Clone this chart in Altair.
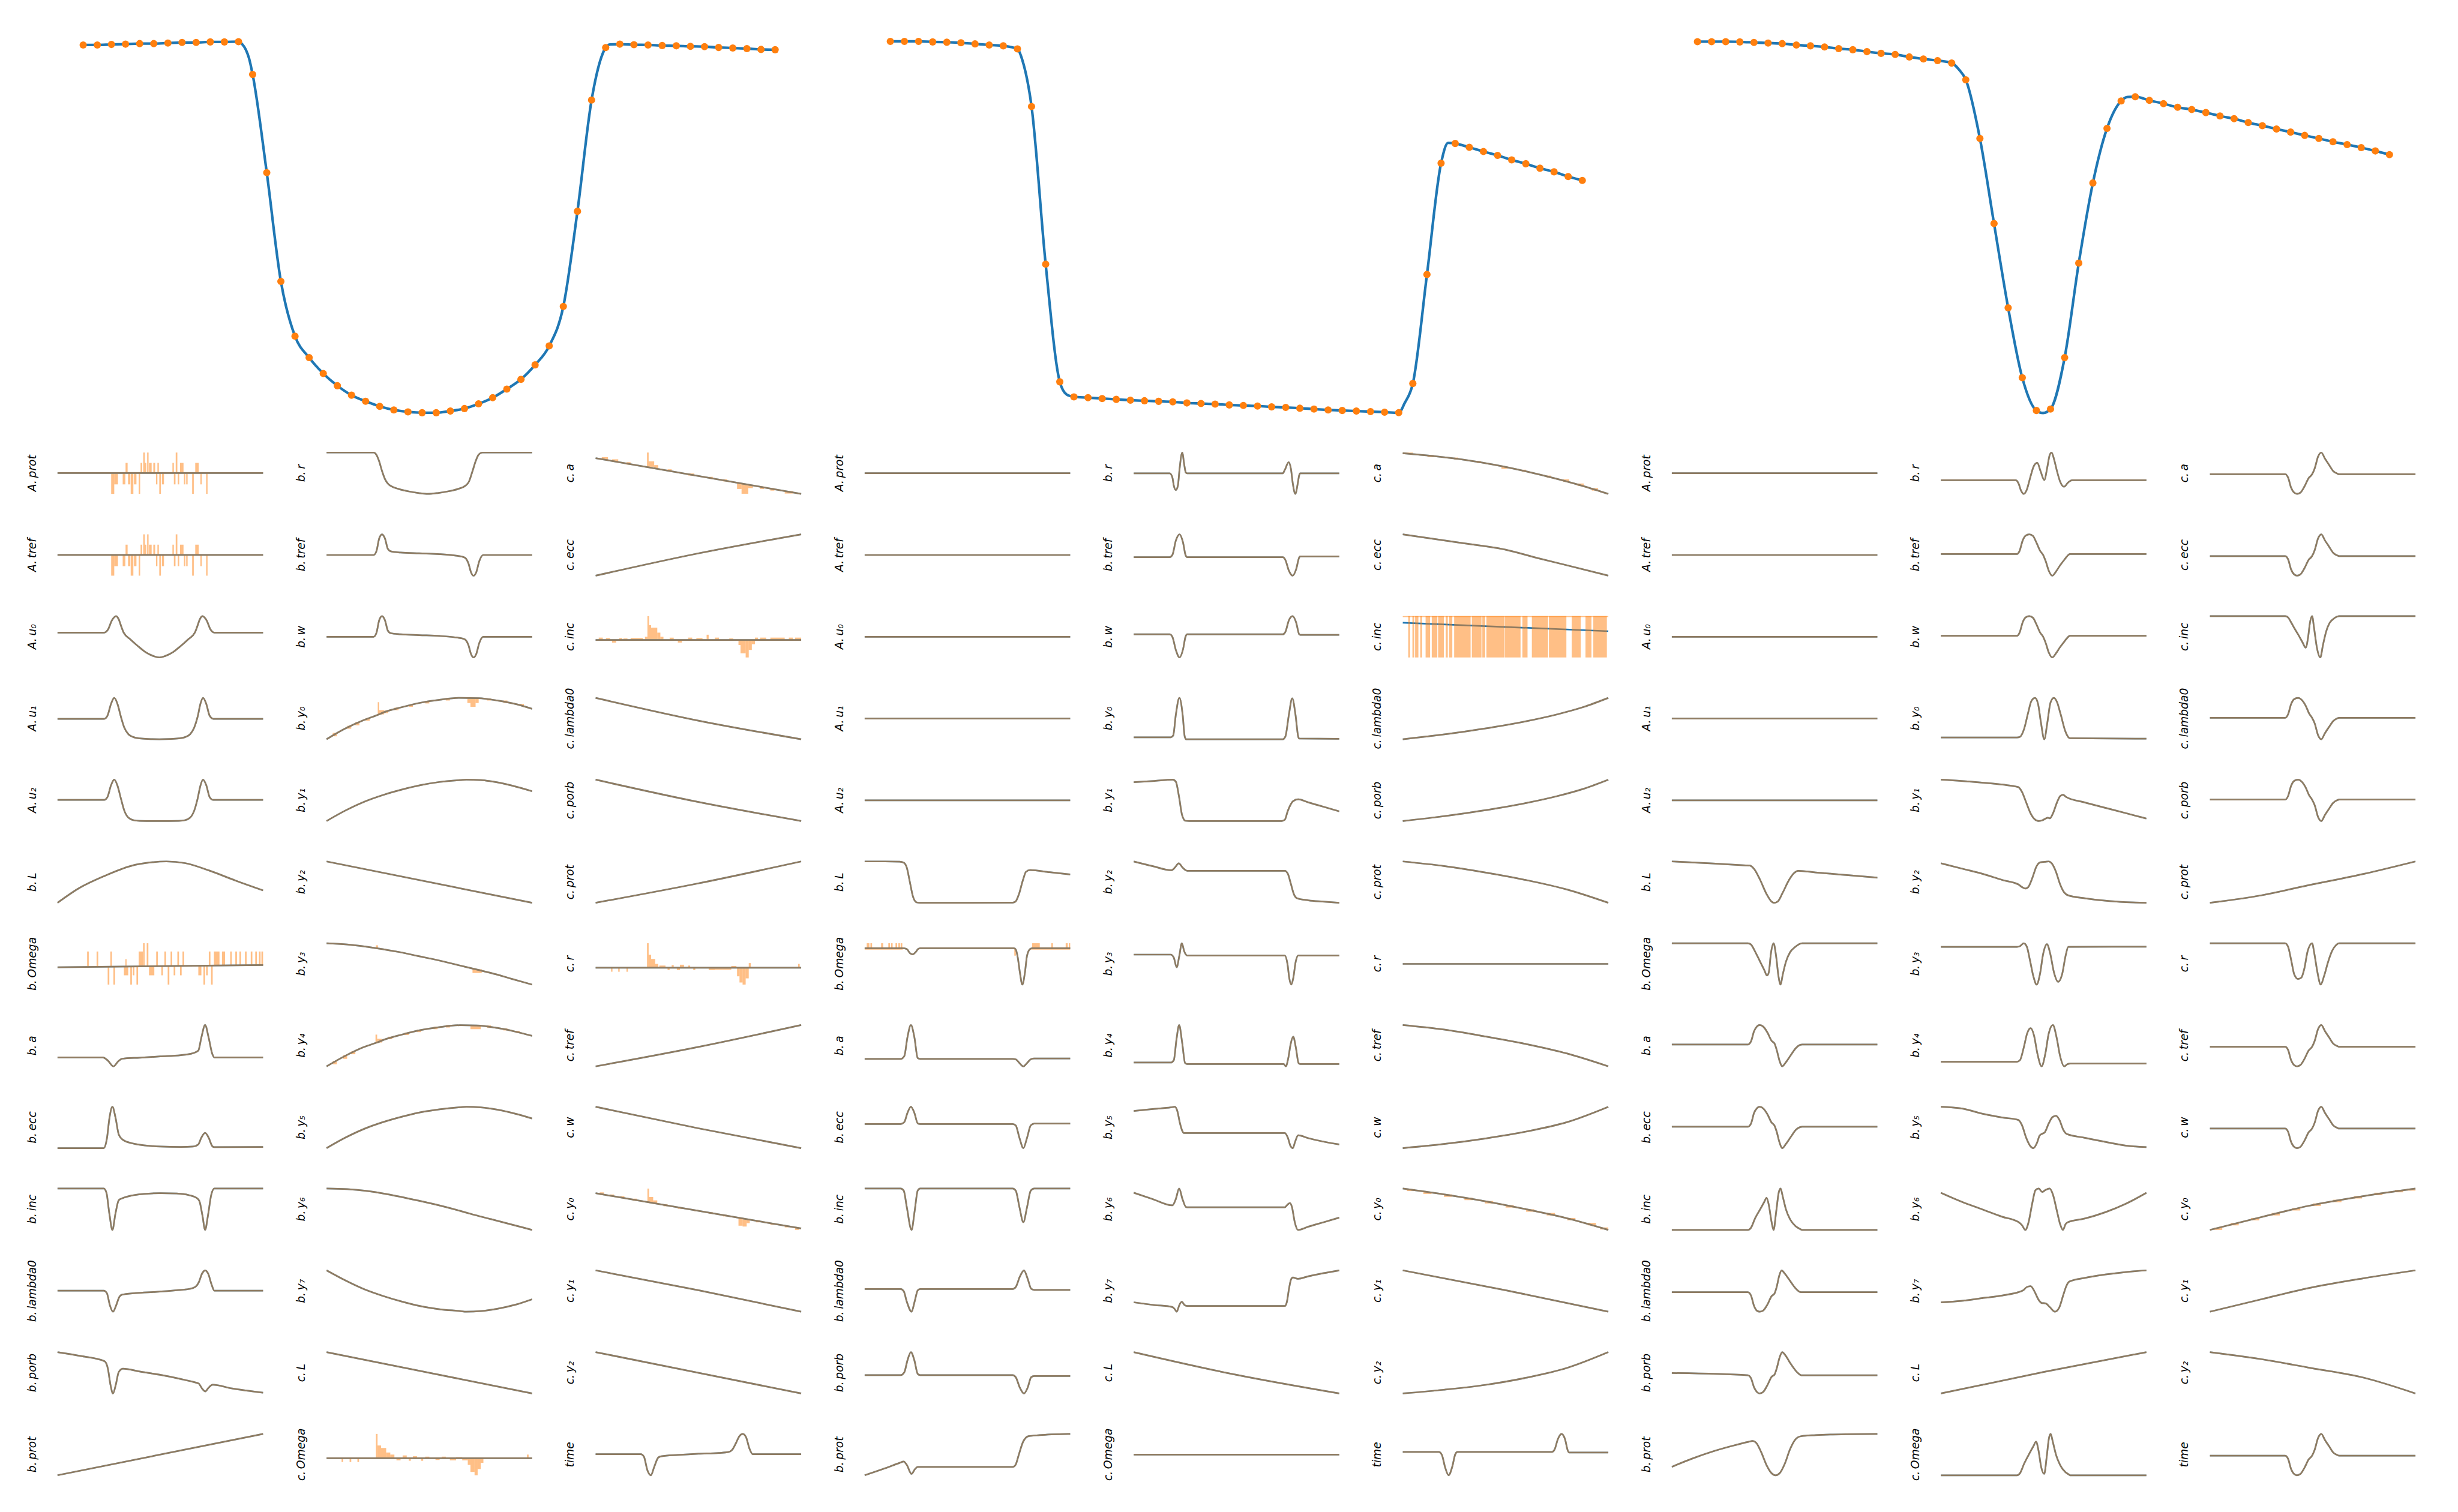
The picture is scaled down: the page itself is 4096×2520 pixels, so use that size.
import altair as alt
import pandas as pd

alt.data_transformers.disable_max_rows()

BLUE = "#1f77b4"
ORANGE = "#ff7f0e"

# ---------------- layout (pixels, already at 0.91) ----------------
CELL_W, CELL_H = 343, 69
COL_SP, ROW_SP = 106, 67.5
GROUP_W = 3 * CELL_W + 2 * COL_SP
GRID_W = 9 * CELL_W + 8 * COL_SP
TOP_H = 622.4
TOP_GAP = 65.5
LABEL_DX = -36.4
TOP_OFF, TOP_SPAN = 42.8, 1154.8          # where time 0..1 sits inside a group, in px
GROUP_STEP = (GROUP_W + COL_SP) / TOP_SPAN  # group offset in time units
X_LO, X_HI = -TOP_OFF / TOP_SPAN, (GRID_W - TOP_OFF) / TOP_SPAN

# ---------------- labels ----------------
COL_A = ["A.prot", "A.tref", "A.u₀", "A.u₁", "A.u₂", "b.L", "b.Omega", "b.a",
         "b.ecc", "b.inc", "b.lambda0", "b.porb", "b.prot"]
COL_B = ["b.r", "b.tref", "b.w", "b.y₀", "b.y₁", "b.y₂", "b.y₃", "b.y₄", "b.y₅",
         "b.y₆", "b.y₇", "c.L", "c.Omega"]
COL_C = ["c.a", "c.ecc", "c.inc", "c.lambda0", "c.porb", "c.prot", "c.r", "c.tref",
         "c.w", "c.y₀", "c.y₁", "c.y₂", "time"]

# ---------------- top light curves (normalised flux, 50 samples each) ----------------
TOP1 = [0.9868, 0.9868, 0.9882, 0.9890, 0.9905, 0.9905, 0.9920, 0.9935, 0.9935, 0.9950, 0.9950, 0.9957,
        0.9077, 0.6444, 0.3528, 0.2058, 0.1484, 0.1058, 0.0730, 0.0477, 0.0313, 0.0178, 0.0081, 0.0029,
        0.0006, 0.0006, 0.0051, 0.0118, 0.0245, 0.0409, 0.0640, 0.0902, 0.1289, 0.1797, 0.2855, 0.5408,
        0.8390, 0.9800,
        0.9890, 0.9875, 0.9868, 0.9853, 0.9846, 0.9831, 0.9823, 0.9801, 0.9786, 0.9771, 0.9748, 0.9741]
TOP1_EXTRA = [(0.2298, 0.9890), (0.2351, 0.9741), (0.2396, 0.9517), (0.7491, 0.9554), (0.7611, 0.9880)]

TOP2 = [0.9965, 0.9965, 0.9965, 0.9950, 0.9942, 0.9927, 0.9897, 0.9868, 0.9845, 0.9763,
        0.8219, 0.3990, 0.0835,
        0.0431, 0.0409, 0.0387, 0.0364, 0.0342, 0.0327, 0.0312, 0.0297, 0.0268, 0.0253, 0.0238, 0.0215,
        0.0200, 0.0186, 0.0163, 0.0148, 0.0126, 0.0104, 0.0081, 0.0066, 0.0051, 0.0036, 0.0021, 0.0007,
        0.0790, 0.3714, 0.6698,
        0.7227, 0.7123, 0.7011, 0.6906, 0.6787, 0.6683, 0.6563, 0.6466, 0.6339, 0.6235]
TOP2_EXTRA = [(0.1910, 0.9450), (0.2551, 0.0491), (0.7434, 0.0268), (0.8061, 0.7241)]

TOP3 = [0.9957, 0.9957, 0.9957, 0.9950, 0.9935, 0.9920, 0.9905, 0.9868, 0.9845, 0.9815, 0.9771, 0.9741,
        0.9689, 0.9644, 0.9614, 0.9547, 0.9494, 0.9450, 0.9383,
        0.8935, 0.7361, 0.5079, 0.2819, 0.0946, 0.0066, 0.0104, 0.1484, 0.4019, 0.6168, 0.7630, 0.8368,
        0.8480, 0.8383, 0.8294, 0.8197, 0.8137, 0.8055, 0.7965, 0.7891, 0.7787, 0.7704, 0.7615, 0.7532,
        0.7443, 0.7361, 0.7272, 0.7197, 0.7116, 0.7026, 0.6928]
TOP3_EXTRA = [(0.3775, 0.9219), (0.4996, 0.0000), (0.6218, 0.8472)]

# ---------------- gradient panels: (time %, value %) ----------------
FLAT = [(0, 50), (100, 50)]

G1_BTREF = [(0, 50), (22.9, 50), (24.3, 60), (25.6, 90), (27, 100), (28.4, 90), (29.8, 65), (31.2, 58.8),
            (36, 56), (45, 54), (55, 52), (62, 49), (66, 46), (67.5, 43), (69, 30), (70.3, 8), (71.5, 0),
            (72.8, 8), (74.3, 35), (76.2, 50), (100, 50)]
G1_RISE = [(0, 0), (8.9, 24.9), (18.2, 45.6), (24.7, 57.4), (27.5, 63.3), (36.8, 76.3), (46.1, 87),
           (55.4, 94), (64.7, 98.2), (74, 97.6), (83.3, 91.7), (92.6, 82.8), (100, 72.2)]

G1 = {
    "A.prot": [(0, 50.3), (100, 50.3)],
    "A.tref": [(0, 50.3), (100, 50.3)],
    "A.u₀": [(0, 60), (22.7, 60), (24.5, 67), (26.5, 90), (28.5, 100), (29.8, 92), (31, 75), (32.2, 60),
             (35.4, 44), (39, 28), (42.8, 13), (46.6, 3.5), (49.5, 0), (52.4, 3.5), (56.2, 13), (60, 28),
             (63.6, 44), (66.8, 60), (68, 75), (69.2, 92), (70.5, 100), (72.5, 90), (74.5, 67), (76.3, 60),
             (100, 60)],
    "A.u₁": [(0, 49.4), (22.7, 49.4), (24.3, 57), (26, 85), (27.6, 100), (29.2, 85), (30.8, 55), (32.5, 28),
             (34.5, 12), (37, 5), (40, 2), (44, 0.5), (49.5, 0), (55, 0.5), (59, 2), (62, 5), (64.5, 12),
             (66.5, 28), (68.2, 55), (69.5, 85), (70.8, 100), (72.4, 85), (74, 57), (75.8, 49.4), (100, 49.4)],
    "A.u₂": [(0, 51), (22.7, 51), (24.3, 58), (26, 86), (27.6, 100), (29.2, 85), (30.8, 55), (32.5, 25),
             (34.5, 8), (37, 2), (40, 0.5), (49.5, 0), (59, 0.5), (62, 2), (64.5, 8), (66.5, 25), (68.2, 55),
             (69.5, 85), (70.8, 100), (72.4, 86), (74, 58), (75.8, 51), (100, 51)],
    "b.L": [(0, 0), (10, 34), (22.9, 65), (35.6, 89), (45, 97.5), (53, 100), (62, 96), (73.8, 78),
            (86.5, 54), (100, 30)],
    "b.Omega": [(0, 42), (100, 47.4)],
    "b.a": [(0, 21.7), (22, 21.7), (24.5, 14), (27.2, 0), (29.5, 12), (31.5, 18.5), (40, 21), (50, 24),
            (60, 27), (66, 32), (68.5, 38), (70, 70), (71.8, 100), (73.5, 70), (75.3, 30), (76.3, 21.7),
            (100, 21.7)],
    "b.ecc": [(0, 3.3), (22.5, 3.3), (24, 25), (25.3, 75), (26.7, 100), (28.2, 75), (29.8, 35), (31.8, 22.8),
              (36, 15), (42, 10), (50, 7), (60, 6), (66, 7), (68.5, 12), (70, 28), (71.8, 39), (73.5, 28),
              (75.3, 8), (76.3, 5.5), (100, 6)],
    "b.inc": [(0, 100), (22.5, 100), (23.8, 90), (25.2, 40), (26.7, 0), (28.2, 40), (29.8, 72), (31.8, 77),
              (36, 83), (42, 87), (50, 89), (58, 88), (64, 84), (67.5, 78), (69, 70), (70.5, 35), (71.8, 0),
              (73.2, 35), (74.8, 85), (76.3, 100), (100, 100)],
    "b.lambda0": [(0, 51), (22.5, 51), (24, 45), (25.5, 15), (27, 0), (28.5, 15), (30, 35), (31.3, 41),
                  (38, 45), (48, 48), (58, 52), (64, 55), (67, 60), (68.8, 72), (70.3, 92), (71.8, 100),
                  (73.3, 92), (75, 65), (76.3, 51), (100, 51)],
    "b.porb": [(0, 100), (12, 90), (22.9, 78), (24.5, 60), (25.8, 20), (27, 0), (28.3, 20), (29.8, 52),
               (31.8, 60), (40, 53), (50, 45), (60, 35), (66, 28), (68.7, 24), (70.3, 12), (71.9, 5),
               (73.5, 14), (75.5, 21), (85, 12), (100, 2)],
    "b.prot": [(0, 0), (100, 100)],
    "b.r": [(0, 100), (22.9, 100), (24.2, 95), (25.5, 80), (27, 55), (28.5, 35), (30, 24), (31.5, 18.5),
            (35, 12), (40, 6), (45, 2), (49.3, 0), (54, 2), (59, 6), (64, 12), (67.5, 19.6), (69.3, 30),
            (71, 55), (72.6, 80), (74, 95), (75.8, 100), (100, 100)],
    "b.tref": G1_BTREF,
    "b.w": G1_BTREF,
    "b.y₀": G1_RISE,
    "b.y₁": [(0, 0), (9, 25), (18, 46), (27.5, 63), (37, 76.5), (46, 87), (55, 94.5), (65, 99), (68, 100),
             (75, 99), (80, 96), (90, 86), (100, 72)],
    "b.y₂": [(0, 100), (100, 0)],
    "b.y₃": [(0, 100), (10, 97), (24.2, 88), (35, 79), (44.5, 69), (55, 58), (65, 46), (70, 40), (80, 28),
             (90, 14), (100, 0)],
    "b.y₄": [(0, 0), (9, 25), (18, 46), (24.5, 57), (27.5, 63), (37, 76.5), (46, 87), (55, 94), (65, 98.5),
             (73, 98), (83, 92), (92, 83), (100, 73)],
    "b.y₅": [(0, 0), (9, 25), (18, 46), (27.5, 63), (37, 76.5), (46, 87), (55, 94), (65, 99), (68, 100),
             (75, 98.5), (83, 93), (92, 83), (100, 71.7)],
    "b.y₆": [(0, 100), (10, 98.5), (19, 94.6), (30, 86), (44.5, 71), (55, 59), (65, 46), (70, 39), (80, 26),
             (90, 13), (100, 0)],
    "b.y₇": [(0, 100), (9, 76), (18, 55), (27.5, 38), (37, 24), (46, 13), (55, 6), (65, 1.5), (68, 0),
             (75, 1.5), (83, 7), (92, 17), (100, 30)],
    "c.L": [(0, 100), (100, 0)],
    "c.Omega": [(0, 41.3), (100, 41.3)],
    "c.a": [(0, 86.7), (100, 1.2)],
    "c.ecc": [(0, 0), (50, 54), (100, 100)],
    "c.inc": [(0, 42.4), (100, 42.4)],
    "c.lambda0": [(0, 100), (50, 45), (100, 0)],
    "c.porb": [(0, 100), (50, 46), (100, 0)],
    "c.prot": [(0, 0), (50, 47), (100, 100)],
    "c.r": [(0, 40.9), (100, 40.9)],
    "c.tref": [(0, 0), (50, 47), (100, 100)],
    "c.w": [(0, 100), (50, 48), (100, 0)],
    "c.y₀": [(0, 89), (100, 5.4)],
    "c.y₁": [(0, 100), (50, 52), (100, 0)],
    "c.y₂": [(0, 100), (100, 0)],
    "time": [(0, 51), (22, 51), (23.5, 45), (25.2, 12), (26.9, 0), (28.5, 20), (30.5, 43), (32, 46), (40, 49),
             (50, 52), (60, 54), (64.5, 56), (66.5, 62), (68.3, 78), (70, 95), (71.6, 100), (73.2, 92),
             (74.8, 65), (76.4, 51), (100, 51)],
}

# finite-difference excursions (x1, x2, y1, y2)
A_PROT_NOISE = [(26.1, 27.6, 0, 50.3), (27.6, 29.4, 23, 50.3), (31.7, 33.0, 23, 50.3), (33.1, 34.1, 50.3, 75),
                (34.3, 35.4, 23, 50.3), (35.6, 36.9, 0, 50.3), (37.2, 38.4, 23, 50.3), (39.5, 40.2, 0, 50.3),
                (40.4, 41.2, 50.3, 75), (41.7, 42.5, 50.3, 100), (42.5, 43.2, 50.3, 75), (43.6, 44.3, 50.3, 100),
                (44.5, 45.8, 50.3, 75), (46.6, 47.5, 50.3, 75), (47.9, 48.6, 23, 50.3), (48.6, 49.3, 50.3, 75),
                (49.5, 50.3, 0, 50.3), (50.8, 51.8, 23, 50.3), (55.9, 56.6, 50.3, 75), (56.6, 57.4, 23, 50.3),
                (57.5, 58.3, 50.3, 100), (58.5, 59.2, 23, 50.3), (59.6, 61.3, 50.3, 75), (61.5, 62.2, 23, 50.3),
                (62.6, 63.3, 23, 50.3), (65.5, 66.3, 0, 50.3), (67.0, 68.7, 50.3, 75), (69.5, 70.2, 23, 50.3),
                (72.3, 73.0, 0, 50.3)]
G1_BARS = {
    "A.prot": A_PROT_NOISE,
    "A.tref": A_PROT_NOISE,
    "b.Omega": [(14.4, 15.2, 44, 80), (19, 19.8, 44, 80), (24.4, 25.2, 0, 44), (25.7, 26.5, 44, 80),
                (27.2, 28, 0, 44), (32.3, 34.4, 22.4, 44), (33, 33.6, 44, 61.5), (35.4, 36.2, 0, 44),
                (36.6, 37.4, 22.4, 44), (38.4, 39.2, 0, 44), (39.5, 41.5, 44, 80), (41.6, 42.4, 44, 100),
                (43.4, 44.2, 44, 100), (44.5, 47.1, 22.4, 44), (48, 48.8, 44, 80), (50.5, 51.3, 22.4, 44),
                (52, 52.8, 44, 80), (53.6, 54.4, 0, 44), (55, 55.8, 44, 80), (56.5, 57.3, 22.4, 44),
                (58.3, 59.1, 44, 80), (59.6, 60.4, 22.4, 44), (60.8, 61.6, 44, 80), (68.5, 70, 22.4, 45.5),
                (71, 71.8, 0, 45.5), (72.3, 73.1, 22.4, 45.5), (73.6, 74.4, 45.5, 80), (74.7, 75.5, 0, 45.5),
                (76.1, 78.8, 45.5, 80), (80, 81.5, 45.5, 80), (84, 84.8, 45.5, 80), (86.5, 87.3, 45.5, 80),
                (88.5, 89.3, 45.5, 80), (91.2, 92, 45.5, 80), (94, 94.8, 45.5, 80), (96.2, 97, 45.5, 80),
                (98, 98.8, 45.5, 80), (99.2, 100, 45.5, 80)],
    "b.y₀": [(24.9, 25.6, 57, 88), (25.6, 28, 59, 69), (28, 30, 62, 68), (68.5, 70, 86, 97), (70, 72.5, 77, 97.5),
             (72.5, 74, 86, 97.5), (3, 5, 7, 15), (10, 12, 25, 32), (14, 16, 33, 41), (19, 21, 44, 50),
             (33, 35, 69, 75), (40, 42, 77, 82), (48, 50, 85, 91), (58, 60, 92, 97), (78, 80, 92, 97),
             (86, 88, 86, 92), (94, 96, 79, 84)],
    "b.y₃": [(24, 25, 88, 95), (71, 75.5, 28, 37)],
    "b.y₄": [(23.8, 24.6, 55, 76), (24.6, 27, 57, 66), (70, 75, 89, 97.5), (3, 5, 5, 13), (8, 10, 18, 27),
             (12, 14, 29, 36), (30, 32, 65, 71), (38, 40, 75, 81), (44, 46, 82, 88), (52, 54, 89, 95),
             (58, 60, 93, 99), (78, 80, 92, 98), (86, 88, 86, 91), (92, 94, 80, 85)],
    "c.a": [(25, 25.8, 65, 100), (25.8, 28.5, 66, 79), (28.5, 30.5, 62, 70), (68.8, 71, 13, 27),
            (71, 74.3, 1.5, 25), (74.3, 76.5, 15, 23), (3, 6, 82, 89), (8, 11, 78, 84), (15, 17, 71, 77),
            (35, 37, 55, 60), (45, 48, 45, 50), (55, 57, 37, 42), (62, 64, 31, 36), (80, 82, 13, 19),
            (85, 87, 9, 15), (92, 96, 2, 8)],
    "c.inc": [(1.5, 3.5, 42.4, 48), (5, 7, 42.4, 47), (8, 10, 36, 42.4), (11.5, 13, 42.4, 47), (13.5, 15.5, 42.4, 46),
              (17, 23, 42.4, 47), (24, 25.2, 42.4, 50), (25.2, 26, 42.4, 100), (26, 27, 42.4, 78),
              (27, 30, 42.4, 72), (30, 31.5, 42.4, 60), (31.5, 33, 42.4, 50), (36, 38, 42.4, 48), (40, 42, 36, 42.4),
              (45, 47, 42.4, 48), (49, 52, 42.4, 47), (54, 55, 42.4, 55), (58, 60, 42.4, 48), (65, 67, 42.4, 46),
              (69.5, 70.5, 30, 42.4), (70.5, 73, 10, 42.4), (73, 74.5, 0, 42.4), (74.5, 76, 18, 42.4),
              (76, 77.5, 32, 42.4), (77.5, 79, 42.4, 48), (80, 83, 42.4, 48), (85, 92, 42.4, 48),
              (94, 96, 42.4, 48), (97, 100, 42.4, 48)],
    "c.r": [(7.5, 8.2, 31, 40.9), (11, 11.7, 31, 40.9), (15, 15.7, 31, 40.9), (25, 25.8, 40.9, 100),
            (25.8, 27, 40.9, 72), (27, 29, 40.9, 62), (29, 30.5, 40.9, 50), (31, 34, 40.9, 46), (35, 36, 35, 40.9),
            (37, 38, 40.9, 47), (39.5, 41, 35, 40.9), (41, 43, 40.9, 48), (45, 46, 40.9, 46), (47.5, 48.5, 35, 40.9),
            (55, 58, 35, 40.9), (58, 62, 36, 40.9), (62, 66, 36, 40.9), (66, 68.5, 40.9, 45), (68.8, 70, 20, 40.9),
            (70, 71.5, 5, 40.9), (71.5, 73, 0, 40.9), (73, 74.5, 15, 40.9), (74.5, 75.5, 40.9, 52),
            (98.5, 99.3, 40.9, 50)],
    "c.y₀": [(25.2, 26, 67, 100), (26, 28, 66, 80), (28, 30, 64, 72), (69.5, 71.5, 12, 29), (71.5, 73.5, 10, 27),
             (73.5, 75, 18, 27), (2, 4, 85, 91), (7, 9, 81, 86), (12, 14, 77, 82), (18, 20, 71, 76),
             (33, 35, 58, 63), (40, 42, 52, 56), (48, 50, 46, 50), (55, 57, 40, 44), (62, 64, 34, 38),
             (78, 80, 20, 25), (85, 87, 14, 18), (92, 94, 8, 12), (97, 99, 2, 8)],
    "c.Omega": [(7.3, 8.1, 32, 41.3), (11.2, 12, 32, 41.3), (15, 15.8, 32, 41.3), (24, 24.8, 41.3, 100),
                (24.8, 26.5, 41.3, 72), (26.5, 29, 41.3, 66), (29, 31, 41.3, 55), (31, 33, 41.3, 50),
                (34, 36, 36, 41.3), (37, 39, 41.3, 48), (40, 41, 35, 41.3), (42, 44, 41.3, 46), (46, 47, 35, 41.3),
                (48, 50, 41.3, 45), (53, 55, 37, 41.3), (56, 58, 41.3, 45), (60, 63, 36, 41.3), (63, 66, 41.3, 44),
                (66, 68.7, 36, 41.3), (68.7, 70, 25, 41.3), (70, 72, 8, 41.3), (72, 73.5, 0, 41.3),
                (73.5, 75, 15, 41.3), (75, 76.3, 30, 41.3), (97.5, 98.3, 41.3, 50)],
}

G2 = {
    "A.prot": FLAT, "A.tref": FLAT, "A.u₀": FLAT, "A.u₁": FLAT, "A.u₂": FLAT,
    "b.L": [(0, 100), (10, 100), (17, 99.5), (19, 97), (20.5, 85), (22, 50), (23.5, 15), (25.3, 1), (27, 0),
            (50, 0), (72, 0.5), (73.4, 3), (75, 20), (77, 55), (78.5, 75), (80.5, 79), (90, 74), (100, 68.5)],
    "b.Omega": [(0, 87.8), (18.5, 87.8), (20.5, 86), (22, 76), (23.3, 73), (24.7, 78), (26, 86), (27, 87.8),
                (72.5, 87.8), (73.5, 85), (74.5, 65), (75.5, 30), (76.7, 0), (78, 30), (79, 70), (80.5, 86),
                (81.5, 87.8), (100, 87.8)],
    "b.a": [(0, 17.8), (17.5, 17.8), (19.3, 25), (20.8, 70), (22.5, 100), (24.2, 70), (25.8, 20), (27, 17.8),
            (72, 17.8), (73.5, 17), (75.3, 8), (77.2, 0), (79, 8), (80.8, 17), (82.5, 18.9), (100, 18.9)],
    "b.ecc": [(0, 58.4), (17.5, 58.4), (19.3, 63), (20.8, 85), (22.5, 100), (24.2, 85), (25.8, 60), (27, 58.4),
              (72, 58.4), (73.5, 55), (75.3, 25), (77.2, 0), (79, 25), (80.8, 55), (82.5, 59.5), (100, 59.5)],
    "b.inc": [(0, 100), (17.5, 100), (19, 95), (20.5, 55), (22.8, 0), (24.3, 45), (25.8, 95), (27, 100),
              (72, 100), (73.5, 95), (75.3, 55), (77.2, 18.7), (79, 55), (80.8, 95), (82.5, 100), (100, 100)],
    "b.lambda0": [(0, 55.4), (17.5, 55.4), (19, 50), (20.5, 25), (22.8, 1), (24.3, 25), (25.8, 52), (27, 55.4),
                  (72, 55.4), (73.5, 60), (75.5, 85), (77.5, 100), (79.3, 80), (81, 56), (82.5, 53.3), (100, 53.3)],
    "b.porb": [(0, 45), (17.5, 45), (19.3, 52), (20.8, 80), (22.5, 100), (24.2, 80), (25.8, 48), (27, 45),
               (72, 45), (73.5, 40), (75.5, 15), (77.5, 1), (79.3, 15), (81, 40), (82.5, 42.9), (100, 42.9)],
    "b.prot": [(0, 0), (10, 17), (17, 30), (19, 33.3), (20.5, 25), (22.8, 3.3), (24.5, 15), (25.8, 20),
               (50, 20), (72, 20), (73.4, 25), (75, 50), (77, 80), (79.7, 94.4), (85, 97), (100, 100)],
    "b.r": [(0, 49.7), (17.5, 49.7), (18.8, 40), (19.5, 20), (20.5, 9.4), (21.5, 20), (22.3, 60), (23.6, 100),
            (24.6, 70), (25.3, 52), (26, 49.7), (72.5, 49.7), (73.5, 58), (75.4, 76.6), (76.5, 60), (77.4, 25),
            (78.6, 0), (79.8, 25), (80.5, 45), (81, 49.7), (100, 49.7)],
    "b.tref": [(0, 44.8), (17.5, 44.8), (18.8, 50), (20.5, 85), (22.3, 100), (24, 80), (25.2, 50), (26, 44.8),
               (72.5, 44.8), (73.8, 38), (75.5, 12), (77.3, 0), (79, 15), (80.5, 44), (81, 46.5), (100, 46.5)],
    "b.w": [(0, 55.9), (17.5, 55.9), (18.8, 50), (20.5, 18), (22.3, 0), (24, 20), (25.2, 50), (26, 55.9),
            (72.5, 55.9), (73.8, 62), (75.5, 90), (77.3, 100), (79, 85), (80.5, 56), (81, 54.7), (100, 54.7)],
    "b.y₀": [(0, 5.8), (18, 5.8), (19.2, 10), (20.5, 60), (22.2, 100), (23.8, 60), (24.8, 8), (25.5, 1.2),
             (72.5, 1.2), (73.8, 8), (75.5, 60), (77.1, 99), (78.7, 60), (80, 8), (80.5, 2.9), (100, 2.3)],
    "b.y₁": [(0, 94), (10, 97), (19, 100), (20.5, 95), (22, 60), (23.5, 15), (25.2, 0.5), (27, 0), (72, 0),
             (73.5, 3), (75, 25), (77.5, 48), (80, 52.6), (85, 45), (92, 35), (100, 23.4)],
    "b.y₂": [(0, 100), (9, 89), (18.3, 78.7), (20, 85), (21.9, 95.5), (23.8, 85), (26, 77.5), (50, 77.5),
             (73.5, 77.3), (75, 70), (76.5, 45), (78, 20), (79.4, 11.2), (85, 6), (92, 3), (100, 0)],
    "b.y₃": [(0, 72.5), (18, 72.5), (19.5, 65), (20.9, 41.8), (22.2, 70), (23.4, 100), (24.6, 80), (26, 70.3),
             (73.5, 70.3), (74.8, 50), (75.7, 15), (76.6, 0), (77.6, 15), (78.8, 55), (80, 70.3), (100, 70)],
    "b.y₄": [(0, 9.1), (18, 9.1), (19.5, 15), (20.8, 65), (22.1, 100), (23.5, 60), (25, 8), (26, 5.7),
             (73, 5.7), (74, 0), (75.2, 20), (76.4, 55), (77.6, 71.6), (78.9, 45), (80.2, 8), (81, 5.7), (100, 5.7)],
    "b.y₅": [(0, 90), (10, 95), (18, 98.5), (20, 100), (21.2, 90), (22.5, 60), (23.6, 42), (24.4, 36.7),
             (50, 36.7), (73.5, 36.5), (75, 25), (76.3, 5), (77.4, 0), (78.5, 15), (80, 31), (85, 24), (92, 16),
             (100, 8.9)],
    "b.y₆": [(0, 90), (9, 75), (18.8, 59.3), (20.5, 75), (22.1, 100), (23.7, 75), (25.5, 55), (26, 54.9),
             (73.5, 54.9), (75, 62), (76, 64.8), (77, 55), (78.3, 20), (79.9, 0), (85, 8), (92, 18), (100, 29.7)],
    "b.y₇": [(0, 24.4), (10, 18), (18.8, 13.3), (20, 8), (20.9, 2.2), (22.2, 18), (23.4, 25.6), (24.7, 18),
             (26, 15.6), (73.5, 15.6), (74.5, 25), (75.5, 55), (76.5, 78), (77.4, 83.3), (79.9, 80), (85, 86),
             (92, 93), (100, 100)],
    "c.L": [(0, 100), (50, 45), (100, 0)],
    "c.Omega": FLAT,
    "c.a": [(0, 98.3), (15, 91.5), (30, 82.7), (45, 70.5), (60, 55), (75, 37), (88, 19.5), (100, 1.2)],
    "c.ecc": [(0, 100), (30, 78.2), (50, 63), (65.3, 43), (80, 25), (100, 0)],
    "c.inc": [(0, 84.1), (100, 63.5)],
    "c.lambda0": [(0, 0), (15, 8.5), (30, 18.5), (45, 30), (60, 43.5), (75, 60), (88, 78), (100, 100)],
    "c.porb": [(0, 0), (15, 8.5), (30, 18.5), (45, 30), (60, 43.5), (75, 60), (88, 78), (100, 100)],
    "c.prot": [(0, 100), (20, 89), (40.5, 73), (60, 55), (80, 32), (100, 0)],
    "c.r": FLAT,
    "c.tref": [(0, 100), (20, 89), (40.5, 72), (60, 54), (80, 31), (100, 0)],
    "c.w": [(0, 0), (20, 10), (40.5, 23.6), (60, 40), (80, 63), (100, 100)],
    "c.y₀": [(0, 100), (20, 86), (40.5, 69), (60, 50), (80, 28), (100, 0)],
    "c.y₁": [(0, 100), (50, 52), (100, 0)],
    "c.y₂": [(0, 0), (20, 9), (40.5, 21), (60, 38), (80, 62), (100, 100)],
    "time": [(0, 56.7), (17.5, 56.7), (19, 50), (20.6, 20), (22.3, 1), (24, 20), (25.6, 52), (26.6, 56.7),
             (72.5, 56.7), (73.8, 62), (75.5, 88), (77.2, 100), (78.9, 88), (80.3, 60), (81, 55.6), (100, 55.6)],
}

G2_CINC_SPANS = [(2.65, 3.54), (4.69, 5.57), (6.0, 7.6), (8.5, 9.4), (11.1, 13.3), (14.1, 16.8), (17.2, 20.0),
                 (20.9, 21.9), (22.6, 24.1), (25.0, 33.0), (33.6, 38.3), (38.7, 40.1), (40.7, 49.2),
                 (49.5, 57.3), (58.2, 60.7), (62.8, 70.7), (71.1, 79.6), (82.2, 86.6), (88.9, 91.8), (92.7, 99.3)]
G2_BARS = {
    "b.Omega": [(1, 2.3, 87.8, 100), (2.8, 3.6, 87.8, 100), (8, 9, 87.8, 100), (11.5, 12.3, 87.8, 100),
                (12.8, 13.6, 87.8, 100), (15, 15.8, 87.8, 100), (16.4, 17.2, 87.8, 100), (17.5, 18.3, 87.8, 100),
                (81.5, 85.2, 87.8, 100), (90.8, 91.6, 87.8, 100), (97.8, 98.8, 87.8, 100), (99.3, 100, 87.8, 100),
                (0, 18.5, 84.5, 87.8), (81, 100, 84.5, 87.8), (72.8, 73.6, 70, 87.8)],
    "c.a": [(0, 5, 96, 100), (12, 15, 89, 94), (25, 27, 83, 88), (36, 38, 75, 80), (48, 51, 61, 67),
            (58, 60, 54, 59), (70, 72, 40, 45), (78, 81, 30, 36), (85, 88, 20, 26), (92, 95, 9, 15)],
    "c.y₀": [(2, 6, 94, 99), (10, 14, 87, 92), (20, 24, 80, 86), (30, 34, 72, 78), (40, 44, 64, 70),
             (50, 54, 54, 60), (60, 64, 44, 50), (70, 74, 35, 41), (80, 84, 23, 29), (90, 94, 11, 17),
             (96, 100, 1, 6)],
}
G2_TOPBARS = {"c.inc": [(a, b, 0, 100) for a, b in G2_CINC_SPANS] + [(0, 100, 97.5, 100)]}
G2_NO_ORANGE_LINE = ["c.inc"]

G3_DIP_PEAK = [(0, 47.4), (36.6, 47.4), (38, 40), (39.5, 15), (41, 3), (42.4, 0), (44, 3), (46, 18), (48, 38),
               (49.7, 47.4), (51, 62), (52.6, 90), (54.2, 100), (56, 85), (58, 70), (60, 55), (62, 49),
               (62.8, 47.4), (100, 47.4)]
G3_PEAK_DIP = [(0, 51.7), (36.6, 51.7), (38, 60), (39.5, 85), (41, 97), (42.9, 100), (44.5, 96), (46.5, 82),
               (48.3, 62), (49.7, 51.7), (51, 38), (52.6, 10), (54.2, 0), (56, 15), (58, 30), (60, 44),
               (62, 50.5), (62.8, 51.7), (100, 51.7)]
G3_BTREF = [(0, 52.3), (37, 52.3), (38.3, 60), (39.8, 85), (41.3, 97), (43, 100), (44.8, 96), (46.5, 80),
            (48.3, 60), (49.7, 50.6), (51, 35), (52.5, 12), (54.2, 0), (56, 10), (58, 25), (60, 38), (62, 50),
            (62.8, 52.3), (100, 52.3)]

G3 = {
    "A.prot": FLAT, "A.tref": FLAT, "A.u₀": FLAT, "A.u₁": FLAT, "A.u₂": FLAT,
    "b.L": [(0, 100), (20, 95), (36, 90.5), (38, 89.9), (40, 82), (43, 55), (46, 22), (48.5, 3), (49.7, 0),
            (51.5, 3), (54, 25), (57, 55), (59.5, 72), (61.5, 77.5), (70, 73.5), (85, 67), (100, 60.7)],
    "b.Omega": [(0, 100), (37, 100), (38.5, 97), (40.5, 80), (43, 55), (45, 35), (46.3, 22), (47.2, 30),
                (48.2, 75), (49.5, 100), (50.7, 70), (51.9, 20), (52.9, 0), (54, 25), (55.5, 55), (57.5, 78),
                (60, 91), (62, 98), (63.4, 100), (100, 100)],
    "b.a": [(0, 52.7), (37, 52.7), (38.5, 60), (40, 85), (41.5, 97), (42.7, 100), (44.5, 96), (46.5, 82),
            (48.5, 62), (50, 55), (51, 40), (52.5, 12), (53.7, 0), (55.5, 10), (58, 28), (60.5, 45), (62.5, 52),
            (63.4, 52.7), (100, 52.7)],
    "b.ecc": [(0, 51.7), (37, 51.7), (38.5, 59), (40, 85), (41.5, 97), (42.7, 100), (44.5, 96), (46.5, 82),
              (48.5, 62), (50, 54), (51, 40), (52.5, 12), (53.7, 0), (55.5, 10), (58, 28), (60.5, 45), (62.5, 51),
              (63.4, 51.7), (100, 51.7)],
    "b.inc": [(0, 0), (37, 0), (38.5, 5), (40.5, 28), (43, 50), (45, 68), (46.1, 77.8), (47.2, 60), (48.5, 20),
              (49.5, 0), (50.8, 45), (52, 90), (52.9, 100), (54, 80), (55.5, 50), (57.5, 26), (60, 10),
              (62.5, 2), (63.4, 0), (100, 0)],
    "b.lambda0": [(0, 47.8), (37, 47.8), (38.5, 40), (40, 15), (41.5, 3), (42.7, 1), (44.5, 4), (46.5, 18),
                  (48.5, 38), (50, 45), (51, 60), (52.3, 88), (53.4, 100), (55, 92), (57.5, 75), (60, 58),
                  (62, 49), (62.8, 47.8), (100, 47.8)],
    "b.porb": [(0, 49.5), (37, 44), (38.5, 37), (40, 15), (41.5, 3), (42.7, 0), (44.5, 4), (46.5, 20),
               (48.5, 40), (50, 46), (51, 60), (52.5, 88), (53.7, 100), (55.3, 92), (57.8, 72), (60.3, 55),
               (62.5, 45), (63, 44), (100, 44)],
    "b.prot": [(0, 20.2), (10, 40), (20, 57), (30, 71), (37.2, 79.8), (39.3, 82), (41, 78), (43.5, 55), (46, 25),
               (48.5, 5), (50.5, 0), (52.5, 5), (55, 28), (57.5, 62), (60, 85), (62.8, 93.3), (70, 96),
               (85, 98.3), (100, 98.9)],
    "b.r": [(0, 32.9), (36.5, 32.9), (37.8, 25), (39, 8), (40.3, 0), (41.8, 10), (43.5, 40), (45.3, 68),
            (46.9, 75), (48.5, 55), (50.3, 33.5), (51.8, 65), (53, 95), (53.9, 100), (55, 85), (56.5, 55),
            (58, 30), (59.9, 17.3), (62, 28), (63.9, 32.9), (100, 32.9)],
    "b.tref": G3_BTREF,
    "b.w": G3_BTREF,
    "b.y₀": [(0, 4.1), (37, 4.1), (38.5, 6), (40.5, 25), (42.5, 65), (44, 92), (45.8, 100), (47.3, 85),
             (48.7, 40), (50.3, 0), (51.8, 40), (53.3, 88), (55, 100), (56.5, 90), (58.3, 60), (60.5, 20),
             (62, 5), (62.8, 2.3), (100, 1.2)],
    "b.y₁": [(0, 100), (10, 97), (20, 93), (30, 88), (37.7, 82), (39.5, 70), (41.5, 45), (43.5, 20), (45.5, 5),
             (47.6, 0), (49.5, 2), (51, 6), (52, 8), (53, 6.5), (54.5, 18), (56.5, 45), (58, 60), (59.4, 63.5),
             (61, 58), (70, 45), (80, 32), (90, 19), (100, 5.9)],
    "b.y₂": [(0, 95.6), (10, 83), (20, 70.5), (30, 55), (37.7, 44.4), (39.5, 38), (41.1, 34.4), (42.5, 38),
             (44.5, 60), (46.5, 88), (48.5, 98), (50.5, 99), (52.4, 100), (54, 95), (56, 75), (58, 45), (60, 25),
             (62, 17.8), (70, 11), (80, 5), (90, 1.5), (100, 0)],
    "b.y₃": [(0, 91.1), (37, 91.1), (38.5, 93), (40.3, 100), (41.8, 92), (43.3, 60), (45, 20), (46.6, 0),
             (48.2, 25), (49.8, 75), (51.6, 97.8), (53.2, 75), (55, 30), (57.1, 6.7), (59, 25), (60.7, 70),
             (62, 91.1), (100, 91.5)],
    "b.y₄": [(0, 11.1), (37, 11.1), (38.5, 15), (40.3, 45), (42, 80), (43.7, 92.2), (45.3, 75), (47, 30),
             (49, 0), (50.8, 30), (52.5, 80), (54.5, 100), (56.3, 70), (58, 25), (60, 0), (61.5, 5), (63, 6.7),
             (100, 6.7)],
    "b.y₅": [(0, 100), (10, 96), (21.5, 81.8), (30, 74), (37.7, 68.2), (39.5, 55), (41.5, 25), (43.5, 5),
             (45, 0), (46.7, 12), (48, 30), (49, 34.1), (50.5, 38), (52.5, 60), (54.3, 75), (56, 78.4),
             (57.7, 68), (59.5, 45), (61.3, 34.1), (70, 25), (80, 15), (90, 6), (100, 2.3)],
    "b.y₆": [(0, 89), (10, 68), (20, 50), (30, 32), (37.7, 19.8), (39.5, 12), (41.1, 1.1), (42.7, 20),
             (44.5, 65), (46, 95), (47.6, 99), (49.3, 91), (51, 96), (52.9, 99), (54.5, 85), (56.5, 45),
             (58, 15), (59.4, 1.1), (60.7, 15), (62, 19.8), (70, 28), (80, 43), (90, 63), (100, 89)],
    "b.y₇": [(0, 23.3), (10, 27), (21.5, 34.4), (30, 40), (37.7, 47.8), (40, 52), (41.8, 60), (43.7, 62.2),
             (45.5, 50), (47.5, 30), (49, 22), (51, 21), (53, 12), (55.5, 1.1), (57.5, 10), (59.5, 40),
             (61, 62), (62.6, 73.3), (70, 82), (80, 90), (90, 96), (100, 100)],
    "c.L": [(0, 0), (50, 52), (100, 100)],
    "c.Omega": [(0, 0), (37, 0), (38.5, 5), (40.5, 28), (43, 52), (45, 70), (46.3, 81), (47.5, 60), (48.8, 20),
                (50.3, 3.3), (51.5, 45), (52.6, 90), (53.4, 100), (54.5, 80), (56, 50), (58, 25), (60.5, 8),
                (62.5, 1), (62.8, 0), (100, 0)],
    "c.a": G3_DIP_PEAK,
    "c.ecc": G3_DIP_PEAK,
    "c.inc": [(0, 100), (36.6, 100), (38, 97), (39.5, 85), (41, 71.4), (43, 55), (45, 37), (46.6, 23.8),
              (47.8, 50), (48.7, 85), (49.7, 100), (50.7, 70), (52, 25), (53.7, 0), (55, 30), (56.5, 62),
              (58.2, 83.3), (60, 93), (62, 99), (62.8, 100), (100, 100)],
    "c.lambda0": G3_PEAK_DIP,
    "c.porb": G3_PEAK_DIP,
    "c.prot": [(0, 0), (25, 18), (47.6, 42), (75, 70), (100, 100)],
    "c.r": [(0, 100), (36.6, 100), (38, 92), (39.5, 60), (41, 25), (42.9, 13.5), (44.5, 17), (46, 40),
            (47.5, 80), (49.7, 100), (50.8, 75), (52.3, 30), (53.9, 0), (55.5, 20), (57.5, 55), (59.5, 82),
            (61.5, 96), (62.8, 100), (100, 100)],
    "c.tref": G3_DIP_PEAK,
    "c.w": G3_DIP_PEAK,
    "c.y₀": [(0, 0), (25, 31), (47.6, 57.8), (75, 82), (100, 100)],
    "c.y₁": [(0, 0), (25, 30), (47.6, 56.7), (75, 81), (100, 100)],
    "c.y₂": [(0, 100), (25, 83), (47.6, 63), (75, 38), (100, 0)],
    "time": G3_DIP_PEAK,
}
G3_BARS = {
    "c.y₀": [(2, 6, 0, 5), (10, 14, 11, 17), (20, 24, 23, 29), (30, 34, 35, 41), (40, 44, 47, 53),
             (50, 54, 58, 64), (60, 64, 67, 73), (70, 74, 76, 82), (80, 84, 84, 90), (90, 94, 91, 97),
             (96, 100, 95, 100)],
}

# ---------------- build the long table for the grid ----------------
GROUPS = [(G1, G1_BARS, {}, []), (G2, G2_BARS, G2_TOPBARS, G2_NO_ORANGE_LINE), (G3, G3_BARS, {}, [])]
COLS = [COL_A, COL_B, COL_C]

recs = []
for g, (curves, bars, topbars, no_orange) in enumerate(GROUPS):
    for ci, names in enumerate(COLS):
        c = g * 3 + ci
        for r, name in enumerate(names):
            oc = 0 if name in no_orange else 1
            for k, (x, y) in enumerate(curves[name]):
                recs.append({"c": c, "r": r, "kind": "line", "x": x, "y": y, "o": k, "oc": oc})
            for (x1, x2, y1, y2) in bars.get(name, []):
                recs.append({"c": c, "r": r, "kind": "bar", "x": x1, "x2": x2, "y": y1, "y2": y2})
            for (x1, x2, y1, y2) in topbars.get(name, []):
                recs.append({"c": c, "r": r, "kind": "bartop", "x": x1, "x2": x2, "y": y1, "y2": y2})
            recs.append({"c": c, "r": r, "kind": "label", "t": name.replace(".", ".\u2009")})
grid_df = pd.DataFrame(recs)

X = alt.X("x:Q", scale=alt.Scale(domain=[0, 100], nice=False, zero=False), axis=None)
Y = alt.Y("y:Q", scale=alt.Scale(zero=False, nice=False), axis=None)

bars_below = alt.Chart().mark_rect(color=ORANGE, opacity=0.5).encode(
    x=X, x2="x2:Q", y=Y, y2="y2:Q").transform_filter("datum.kind == 'bar'")
blue_line = alt.Chart().mark_line(color=BLUE, strokeWidth=2.75, interpolate="monotone").encode(
    x=X, y=Y, order="o:Q").transform_filter("datum.kind == 'line'")
orange_line = alt.Chart().mark_line(color=ORANGE, strokeWidth=2.75, opacity=0.5, interpolate="monotone").encode(
    x=X, y=Y, order="o:Q").transform_filter("datum.kind == 'line' && datum.oc == 1")
bars_above = alt.Chart().mark_rect(color=ORANGE, opacity=0.5).encode(
    x=X, x2="x2:Q", y=Y, y2="y2:Q").transform_filter("datum.kind == 'bartop'")
labels = alt.Chart().mark_text(angle=270, align="center", baseline="alphabetic", font="DejaVu Sans",
                               fontStyle="italic", fontSize=18.7, color="black").encode(
    x=alt.value(LABEL_DX), y=alt.value(CELL_H / 2), text="t:N").transform_filter("datum.kind == 'label'")

grid = alt.layer(bars_below, blue_line, orange_line, bars_above, labels, data=grid_df).properties(
    width=CELL_W, height=CELL_H
).facet(
    row=alt.Row("r:O", header=None),
    column=alt.Column("c:O", header=None),
    spacing={"row": ROW_SP, "column": COL_SP},
    bounds="flush",
).resolve_scale(y="independent")

# ---------------- top panels: one view, each light curve shifted to its group ----------------
pt_recs, ln_recs = [], []
for g, (vals, extra) in enumerate([(TOP1, TOP1_EXTRA), (TOP2, TOP2_EXTRA), (TOP3, TOP3_EXTRA)]):
    samples = [(i / 49, v) for i, v in enumerate(vals)]
    for t, v in samples:
        pt_recs.append({"g": g, "t": t + g * GROUP_STEP, "v": v})
    for t, v in sorted(samples + list(extra)):
        ln_recs.append({"g": g, "t": t + g * GROUP_STEP, "v": v})
top_pts = pd.DataFrame(pt_recs)
top_line = pd.DataFrame(ln_recs)

TX = alt.X("t:Q", scale=alt.Scale(domain=[X_LO, X_HI], nice=False, zero=False), axis=None)
TY = alt.Y("v:Q", scale=alt.Scale(domain=[0, 1], nice=False, zero=False), axis=None)
top_blue = alt.Chart(top_line).mark_line(color=BLUE, strokeWidth=4.3, interpolate="monotone").encode(
    x=TX, y=TY, detail="g:N")
top_dots = alt.Chart(top_pts).mark_circle(color=ORANGE, opacity=1, size=147).encode(x=TX, y=TY)
tops = alt.layer(top_blue, top_dots).properties(width=GRID_W, height=TOP_H)

chart = alt.vconcat(tops, grid, spacing=TOP_GAP, bounds="flush").properties(
    padding={"left": 44, "top": 58, "right": 65, "bottom": 62},
    background="white",
).configure_view(strokeWidth=0)

chart.save("out.html", embed_options={"renderer": "svg", "actions": False})
